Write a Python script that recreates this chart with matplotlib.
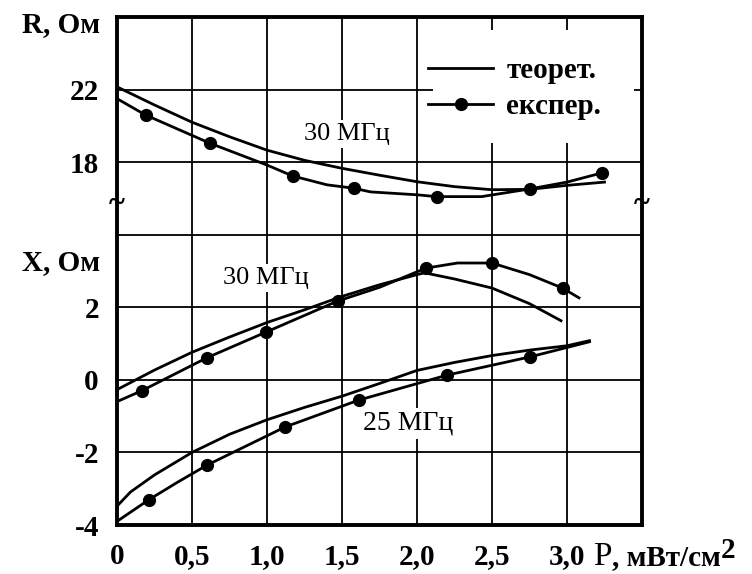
import matplotlib
matplotlib.use("Agg")
import matplotlib.pyplot as plt
from matplotlib.lines import Line2D
from matplotlib.patches import Rectangle

plt.rcParams['font.family'] = ['Liberation Serif', 'DejaVu Serif']

# R, Ohm (30 MHz) -- theory and experiment
r_th_p = [0, 0.25, 0.5, 0.75, 1.0, 1.25, 1.5, 1.75, 2.0, 2.25, 2.5, 2.75, 3.0, 3.25]
r_th = [22.15, 21.15, 20.2, 19.4, 18.66, 18.1, 17.66, 17.28, 16.92, 16.65, 16.48, 16.5, 16.72, 16.9]
r_ex_p = [0, 0.19, 0.62, 1.0, 1.17, 1.4, 1.58, 1.69, 2.0, 2.13, 2.43, 2.75, 3.0, 3.23]
r_ex = [21.5, 20.6, 19.04, 17.84, 17.24, 16.75, 16.56, 16.36, 16.2, 16.1, 16.1, 16.52, 16.9, 17.4]
r_mk_p = [0.19, 0.62, 1.17, 1.58, 2.13, 2.75, 3.23]
r_mk = [20.6, 19.04, 17.24, 16.56, 16.1, 16.52, 17.4]

# X, Ohm (30 MHz)
x30_th_p = [0, 0.25, 0.5, 0.75, 1.0, 1.25, 1.5, 1.75, 2.0, 2.05, 2.25, 2.5, 2.75, 2.96]
x30_th = [-0.27, 0.27, 0.76, 1.18, 1.58, 1.93, 2.3, 2.62, 2.9, 2.95, 2.78, 2.53, 2.1, 1.63]
x30_ex_p = [0, 0.165, 0.6, 0.99, 1.47, 1.75, 2.06, 2.27, 2.5, 2.75, 2.97, 3.08]
x30_ex = [-0.6, -0.3, 0.61, 1.31, 2.17, 2.55, 3.08, 3.22, 3.22, 2.9, 2.53, 2.26]
x30_mk_p = [0.165, 0.6, 0.99, 1.47, 2.06, 2.5, 2.97]
x30_mk = [-0.3, 0.61, 1.31, 2.17, 3.08, 3.22, 2.53]

# X, Ohm (25 MHz)
x25_th_p = [0, 0.09, 0.25, 0.5, 0.75, 1.0, 1.25, 1.5, 1.75, 2.0, 2.25, 2.5, 2.75, 3.0, 3.15]
x25_th = [-3.48, -3.09, -2.62, -2.0, -1.5, -1.1, -0.76, -0.45, -0.1, 0.26, 0.48, 0.67, 0.82, 0.94, 1.08]
x25_ex_p = [0, 0.21, 0.4, 0.6, 1.12, 1.61, 2.2, 2.75, 3.15]
x25_ex = [-3.9, -3.31, -2.83, -2.35, -1.3, -0.56, 0.13, 0.63, 1.05]
x25_mk_p = [0.21, 0.6, 1.12, 1.61, 2.2, 2.75]
x25_mk = [-3.31, -2.35, -1.3, -0.56, 0.13, 0.63]

x_ticks = [0, 0.5, 1.0, 1.5, 2.0, 2.5, 3.0, 3.5]
x_labels = ['0', '0,5', '1,0', '1,5', '2,0', '2,5', '3,0', '']
y_ticks = [-4, -2, 0, 2, 4, 6, 8, 10]
y_labels = ['-4', '-2', '0', '2', '', '18', '22', '']


def r_to_y(vals):
    # R scale is drawn on the upper part of the same axis: 18 -> 6, 22 -> 8
    return [v / 2 - 3 for v in vals]


fig = plt.figure(figsize=(7.52, 5.74), dpi=100)
ax = fig.add_axes([117 / 752, 1 - 525 / 574, 525 / 752, 508 / 574])
ax.set_xlim(0, 3.5)
ax.set_ylim(-4, 10)

fs = 21

# grid
ax.set_xticks(x_ticks)
ax.set_xticklabels(x_labels)
ax.set_yticks(y_ticks)
ax.set_yticklabels(y_labels)
ax.grid(True, color='black', lw=1.3, zorder=1)
ax.set_axisbelow(True)
ax.tick_params(length=0, labelsize=fs)
ax.tick_params(axis='y', pad=13)
ax.tick_params(axis='x', pad=13)
for lab in ax.get_xticklabels() + ax.get_yticklabels():
    lab.set_fontweight('bold')
for sp in ax.spines.values():
    sp.set_linewidth(2.8)
    sp.set_zorder(6)

lw = 2.0
ms = 8.5
# curves
ax.plot(r_th_p, r_to_y(r_th), color='black', lw=lw, zorder=3)
ax.plot(r_ex_p, r_to_y(r_ex), color='black', lw=lw, zorder=3)
ax.plot(r_mk_p, r_to_y(r_mk), 'o', color='black', ms=ms, zorder=4)

ax.plot(x30_th_p, x30_th, color='black', lw=lw, zorder=3)
ax.plot(x30_ex_p, x30_ex, color='black', lw=lw, zorder=3)
ax.plot(x30_mk_p, x30_mk, 'o', color='black', ms=ms, zorder=4)

ax.plot(x25_th_p, x25_th, color='black', lw=lw, zorder=3)
ax.plot(x25_ex_p, x25_ex, color='black', lw=lw, zorder=3)
ax.plot(x25_mk_p, x25_mk, 'o', color='black', ms=ms, zorder=4)

# frequency labels with white boxes over the grid
box = dict(facecolor='white', edgecolor='none', pad=2)
ax.text(1.53, 6.77, '30 МГц', fontsize=19, ha='center', va='center', bbox=box, zorder=2)
ax.text(0.99, 2.8, '30 МГц', fontsize=19, ha='center', va='center', bbox=box, zorder=2)
ax.text(1.94, -1.2, '25 МГц', fontsize=20, ha='center', va='center', bbox=box, zorder=2)

# legend
ax.add_patch(Rectangle((0.602, 0.752), 0.383, 0.222, transform=ax.transAxes,
                       facecolor='white', edgecolor='none', zorder=2))
handles = [Line2D([], [], color='black', lw=lw),
           Line2D([], [], color='black', lw=lw, marker='o', ms=ms)]
leg = ax.legend(handles, ['теорет.', 'експер.'], loc='upper left',
                bbox_to_anchor=(0.565, 0.949), frameon=False, borderpad=0,
                handlelength=2.23, handletextpad=0.45, labelspacing=0.3,
                prop={'weight': 'bold', 'size': fs})
leg.set_zorder(5)

# axis break marks
for xb in (0, 3.5):
    ax.text(xb, 4.85, '~', fontsize=22, fontweight='bold', ha='center', va='center',
            zorder=7, clip_on=False)

# axis names
fig.text(100 / 752, 1 - 25 / 574, 'R, Ом', fontsize=fs, fontweight='bold',
         ha='right', va='center')
fig.text(100 / 752, 1 - 263 / 574, 'X, Ом', fontsize=fs, fontweight='bold',
         ha='right', va='center')
t = fig.text(593 / 752, 1 - 565 / 574, 'P', fontsize=24, ha='left', va='baseline')
t2 = ax.annotate(', мВт/см', xy=(1, 0.24), xycoords=t, fontsize=fs, fontweight='bold',
                 ha='left', va='baseline')
ax.annotate('2', xy=(1, 0), xycoords=t2, xytext=(0, 4.5), textcoords='offset points',
            fontsize=fs, fontweight='bold', ha='left', va='bottom')

fig.savefig('out.png', dpi=100)
